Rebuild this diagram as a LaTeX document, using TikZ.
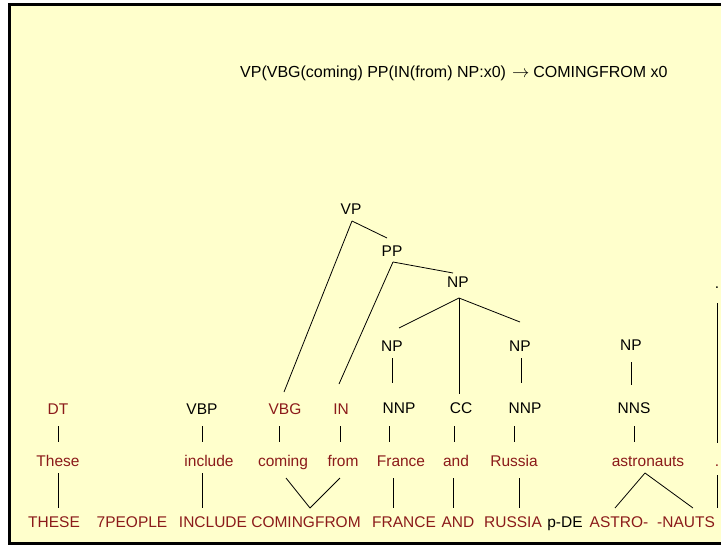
\documentclass[tikz,border=0pt]{standalone}
\usepackage{fontspec}
\setmainfont{Liberation Sans}
\usetikzlibrary{calc}
\definecolor{paper}{RGB}{255,255,204}
\definecolor{wordred}{RGB}{139,26,26}
\begin{document}
\begin{tikzpicture}[x=1pt,y=-1pt,
  lbl/.style={anchor=base,inner sep=0pt,font=\fontsize{15.5}{18}\selectfont},
  tag/.style={lbl,text=black},
  wrd/.style={lbl,text=wordred},
  edge/.style={line width=0.8pt,black}]
\useasboundingbox (0,0) rectangle (721,546);
\begin{scope}
  \clip (0,0) rectangle (721,546);
  \draw[line width=3pt,fill=paper] (9.5,4) rectangle (740,543.5);
\end{scope}

% rule heading
\node[tag,anchor=base west,font=\fontsize{16}{18}\selectfont] (rule) at (240,77)
  {VP(VBG(coming) PP(IN(from) NP:x0)\hspace{6pt}$\rightarrow$\hspace{4pt}COMINGFROM x0};

% upper tree
\node[tag] (vp)    at (351,214) {VP};
\node[tag] (pp)    at (392,256) {PP};
\node[tag] (nptop) at (458,287) {NP};
\node[tag] (npa)   at (392,351) {NP};
\node[tag] (npb)   at (520,351) {NP};
\node[tag] (npc)   at (631,350) {NP};
\node[tag] (dottop) at (717,288) {.};

% part-of-speech row
\node[wrd] (dt)   at (58,414)  {DT};
\node[tag] (vbp)  at (202,414) {VBP};
\node[wrd] (vbg)  at (285,414) {VBG};
\node[wrd] (in)   at (341,414) {IN};
\node[tag] (nnpa) at (399,413) {NNP};
\node[tag] (cc)   at (461,413) {CC};
\node[tag] (nnpb) at (525,413) {NNP};
\node[tag] (nns)  at (634,413) {NNS};

% source words
\node[wrd] (these)   at (58,466)  {These};
\node[wrd] (include) at (209,466) {include};
\node[wrd] (coming)  at (283,466) {coming};
\node[wrd] (from)    at (343,466) {from};
\node[wrd] (france)  at (401,466) {France};
\node[wrd] (and)     at (456,466) {and};
\node[wrd] (russia)  at (514,466) {Russia};
\node[wrd] (astro)   at (648,466) {astronauts};
\node[wrd] (dotword) at (717,466) {.};

% target words
\node[wrd] (tTHESE)  at (54,527)  {THESE};
\node[wrd] (tPEOPLE) at (132,527) {7PEOPLE};
\node[wrd] (tINCL)   at (213,527) {INCLUDE};
\node[wrd] (tCF)     at (306,527) {COMINGFROM};
\node[wrd] (tFR)     at (404,527) {FRANCE};
\node[wrd] (tAND)    at (458,527) {AND};
\node[wrd] (tRU)     at (513,527) {RUSSIA};
\node[tag] (tPDE)    at (565,527) {p-DE};
\node[wrd] (tASTRO)  at (619,527) {ASTRO-};
\node[wrd] (tNAUTS)  at (686,527) {-NAUTS};
\coordinate (dotend) at (717,508);

% tree branches
\draw[edge] ($(vp.base)+(1,7)$) -- ($(pp.base)+(-5,-18)$);
\draw[edge] ($(vp.base)+(1,7)$) -- ($(vbg.base)+(-1,-22)$);
\draw[edge] ($(pp.base)+(1,6)$) -- ($(nptop.base)+(-5,-14)$);
\draw[edge] ($(pp.base)+(1,6)$) -- ($(in.base)+(-2,-30)$);
\draw[edge] ($(nptop.base)+(1,11)$) -- ($(npa.base)+(7,-23)$);
\draw[edge] ($(nptop.base)+(1,11)$) -- ($(npb.base)+(0,-29)$);
\draw[edge] ($(nptop.base)+(1,11)$) -- ($(cc.base)+(-2,-19)$);
\draw[edge] ($(npa.base)+(0,7)$) -- ($(nnpa.base)+(-7,-30)$);
\draw[edge] ($(npb.base)+(1,7)$) -- ($(nnpb.base)+(-4,-30)$);
\draw[edge] ($(npc.base)+(0,12)$) -- ($(nns.base)+(-3,-28)$);
\draw[edge] ($(dottop.base)+(0,15)$) -- ($(dotword.base)+(0,-23)$);

% tags to words
\draw[edge] ($(dt.base)+(0,12)$) -- ($(these.base)+(0,-24)$);
\draw[edge] ($(vbp.base)+(0,12)$) -- ($(include.base)+(-7,-24)$);
\draw[edge] ($(vbg.base)+(-6,12)$) -- ($(coming.base)+(-4,-24)$);
\draw[edge] ($(in.base)+(-1,12)$) -- ($(from.base)+(-3,-24)$);
\draw[edge] ($(nnpa.base)+(-10,13)$) -- ($(france.base)+(-12,-24)$);
\draw[edge] ($(cc.base)+(-7,13)$) -- ($(and.base)+(-2,-24)$);
\draw[edge] ($(nnpb.base)+(-11,13)$) -- ($(russia.base)+(0,-24)$);
\draw[edge] ($(nns.base)+(0,13)$) -- ($(astro.base)+(-14,-24)$);

% word alignment
\draw[edge] ($(these.base)+(0,7)$) -- ($(tTHESE.base)+(4,-19)$);
\draw[edge] ($(include.base)+(-7,7)$) -- ($(tINCL.base)+(-11,-19)$);
\draw[edge] ($(coming.base)+(3,12)$) -- ($(tCF.base)+(4,-19)$);
\draw[edge] ($(from.base)+(-3,12)$) -- ($(tCF.base)+(4,-19)$);
\draw[edge] ($(france.base)+(-8,12)$) -- ($(tFR.base)+(-11,-19)$);
\draw[edge] ($(and.base)+(-3,12)$) -- ($(tAND.base)+(-5,-19)$);
\draw[edge] ($(russia.base)+(5,12)$) -- ($(tRU.base)+(6,-19)$);
\draw[edge] ($(astro.base)+(-3,7)$) -- ($(tASTRO.base)+(-4,-19)$);
\draw[edge] ($(astro.base)+(-3,7)$) -- ($(tNAUTS.base)+(7,-19)$);
\draw[edge] ($(dotword.base)+(0,9)$) -- (dotend);
\end{tikzpicture}
\end{document}
